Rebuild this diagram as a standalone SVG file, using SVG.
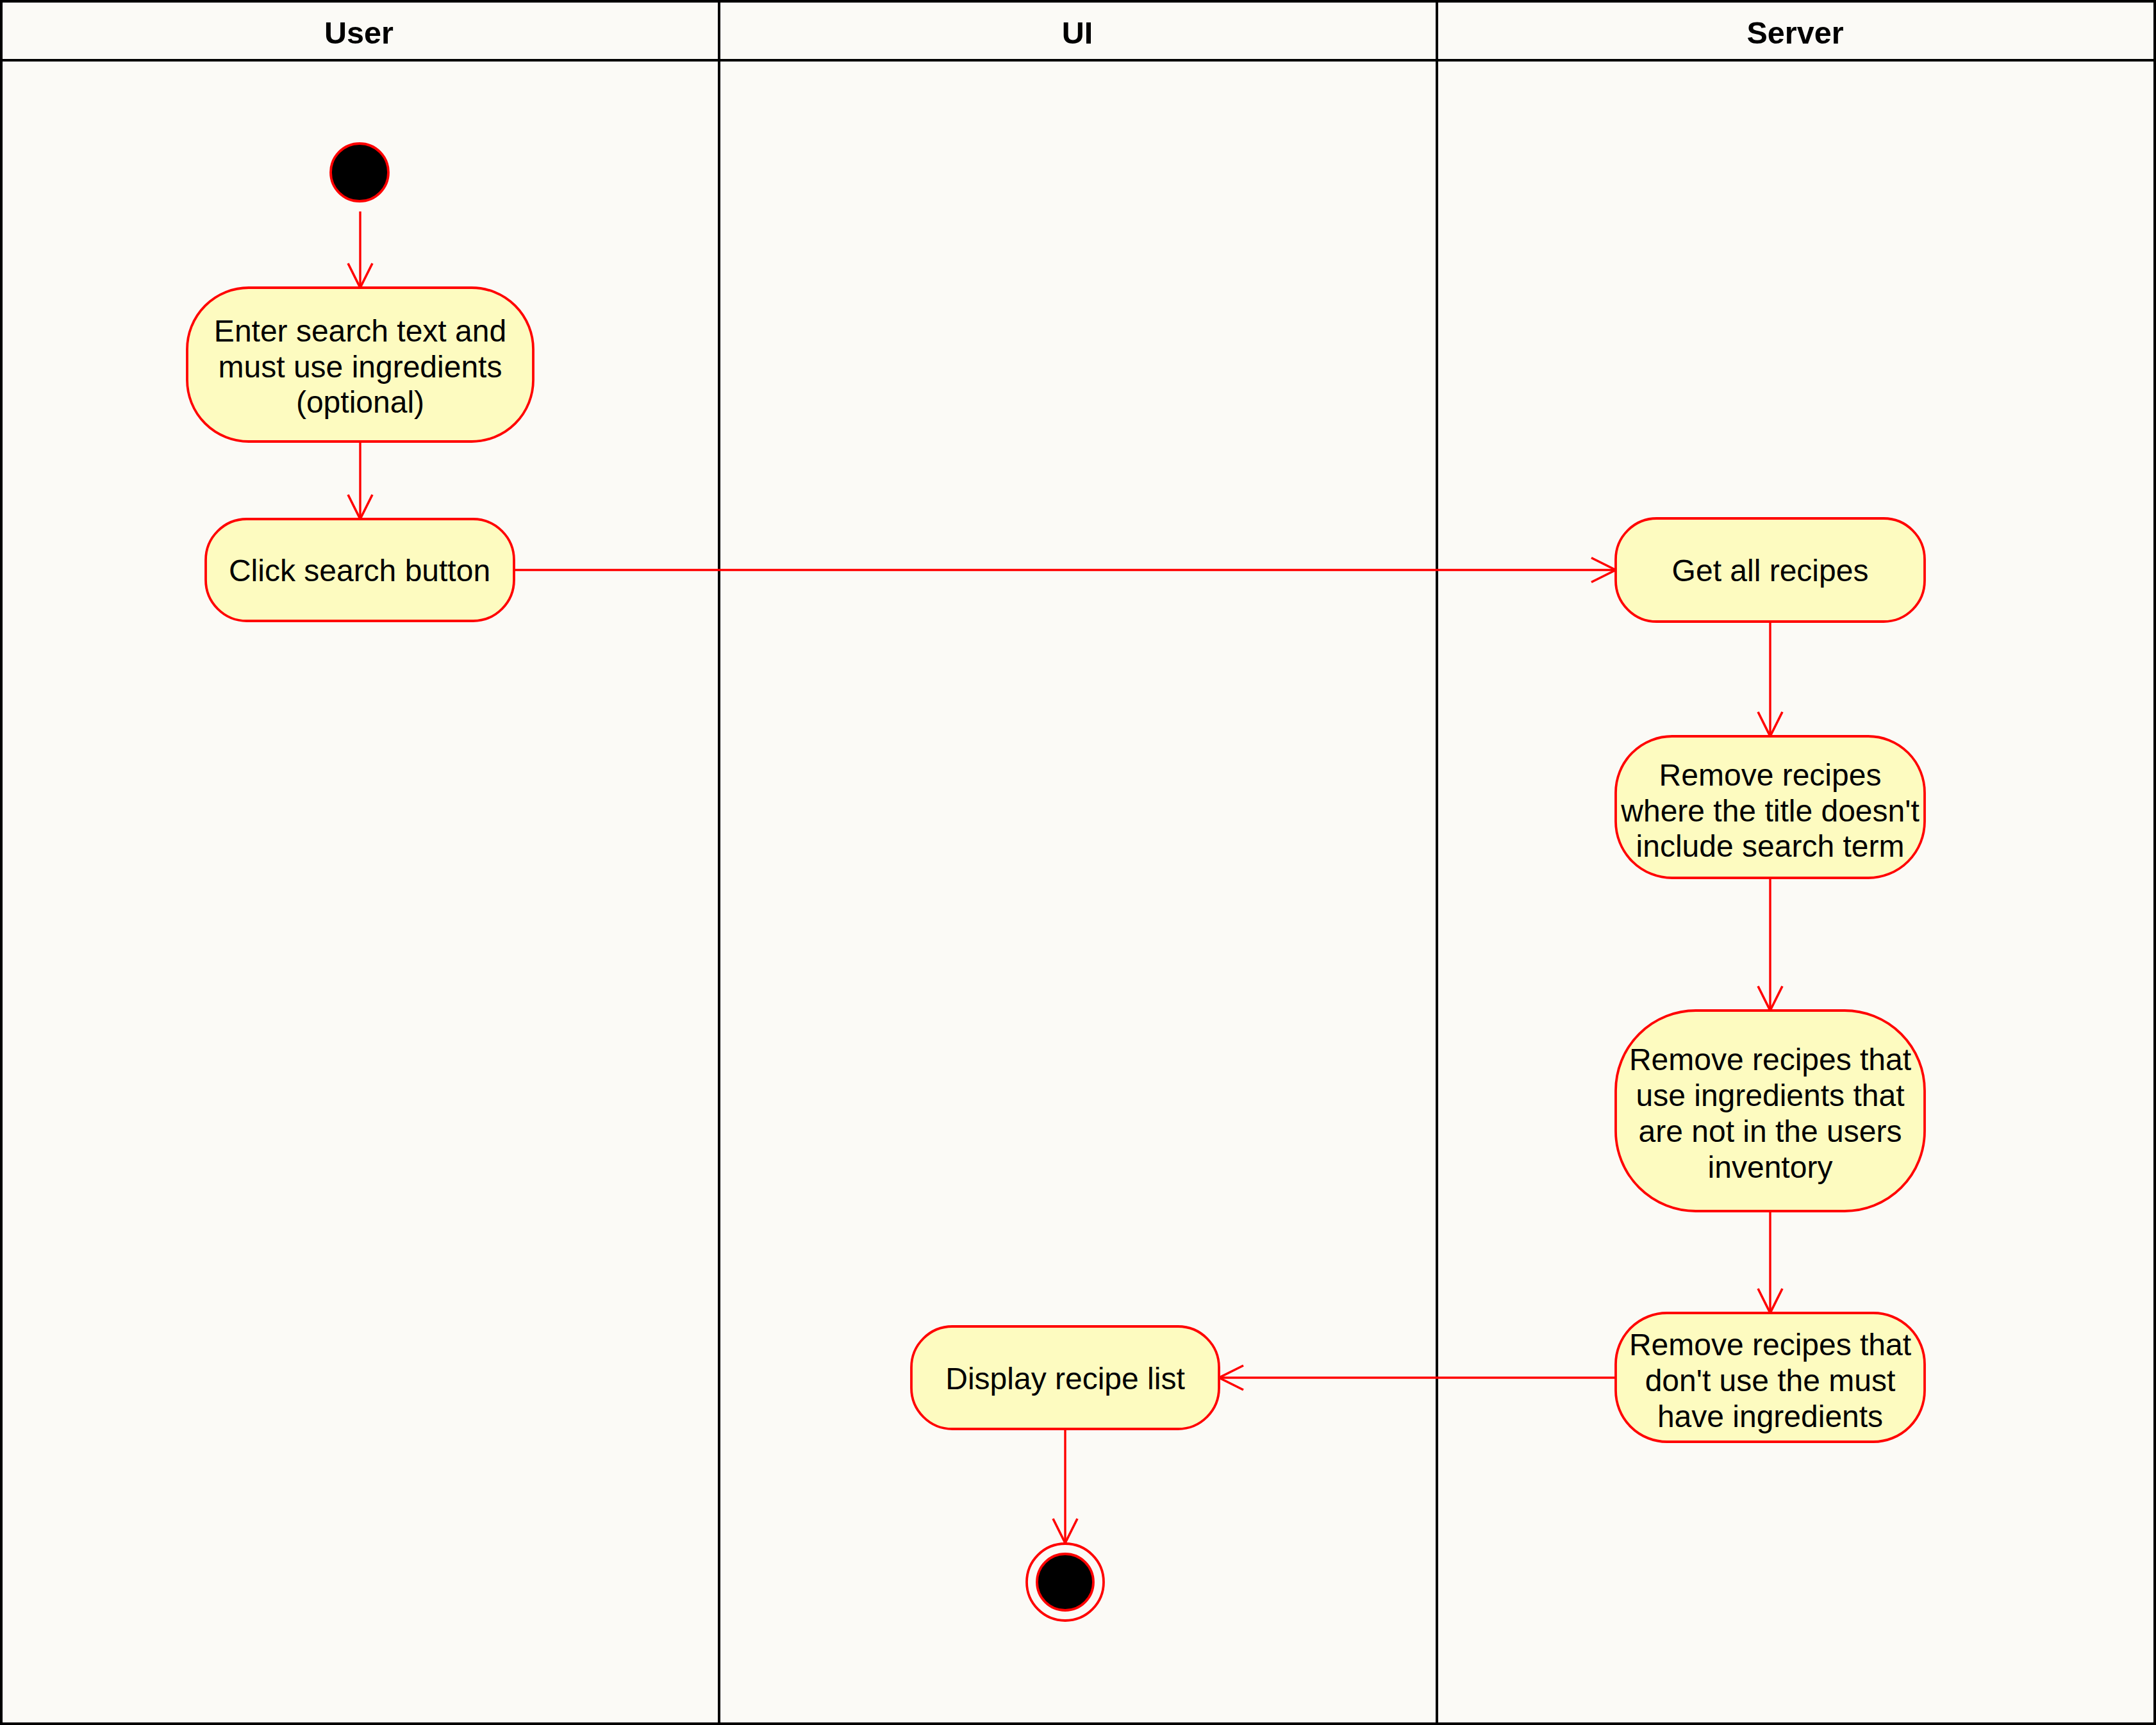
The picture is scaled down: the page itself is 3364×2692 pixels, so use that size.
<svg xmlns="http://www.w3.org/2000/svg" width="3364" height="2692" viewBox="0 0 3364 2692">
<style>
.lane{fill:none;stroke:#000;stroke-width:4}
.hdr{font-family:"Liberation Sans",Arial,sans-serif;font-size:48.5px;font-weight:bold;fill:#000;text-anchor:middle}
.act{fill:#FDFBC0;stroke:#F00;stroke-width:3.8}
.lbl{font-family:"Liberation Sans",Arial,sans-serif;font-size:48px;fill:#000;text-anchor:middle}
.edge{fill:none;stroke:#F00;stroke-width:3.4;marker-end:url(#open)}
</style>
<defs>
<marker id="open" markerUnits="userSpaceOnUse" viewBox="0 0 44 44" markerWidth="44" markerHeight="44" refX="41" refY="22" orient="auto">
<path d="M3,3 L41,22 L3,41" fill="none" stroke="#F00" stroke-width="3.6"/>
</marker>
</defs>
<rect x="0" y="0" width="3364" height="2692" fill="#FBFAF6"/>
<g id="lanes">
<rect class="lane" x="2" y="2" width="3360" height="2688"/>
<line class="lane" x1="2" y1="94" x2="3362" y2="94"/>
<line class="lane" x1="1122" y1="2" x2="1122" y2="2690"/>
<line class="lane" x1="2242" y1="2" x2="2242" y2="2690"/>
<text class="hdr" x="560" y="68">User</text>
<text class="hdr" x="1681" y="68">UI</text>
<text class="hdr" x="2801" y="68">Server</text>
</g>
<g id="connectors">
<path class="edge" d="M562,330 L562,449"/>
<path class="edge" d="M562,689 L562,810"/>
<path class="edge" d="M802,889.5 L2521,889.5"/>
<path class="edge" d="M2762,970 L2762,1149"/>
<path class="edge" d="M2762,1370 L2762,1577"/>
<path class="edge" d="M2762,1890 L2762,2049"/>
<path class="edge" d="M2521,2150 L1902,2150"/>
<path class="edge" d="M1662,2230 L1662,2408"/>
</g>
<g id="start">
<circle cx="561" cy="269" r="45" fill="#000" stroke="#F00" stroke-width="3.8"/>
</g>
<g id="enter-search">
<rect class="act" x="292" y="449" width="540" height="240" rx="96" ry="96"/>
<text class="lbl" x="562" y="533">Enter search text and</text>
<text class="lbl" x="562" y="589">must use ingredients</text>
<text class="lbl" x="562" y="644">(optional)</text>
</g>
<g id="click-search">
<rect class="act" x="321" y="810" width="481" height="159" rx="64" ry="64"/>
<text class="lbl" x="561" y="907">Click search button</text>
</g>
<g id="get-all">
<rect class="act" x="2521" y="809" width="482" height="161" rx="64" ry="64"/>
<text class="lbl" x="2762" y="907">Get all recipes</text>
</g>
<g id="remove-title">
<rect class="act" x="2521" y="1149" width="482" height="221" rx="88" ry="88"/>
<text class="lbl" x="2762" y="1226">Remove recipes</text>
<text class="lbl" x="2762" y="1282">where the title doesn't</text>
<text class="lbl" x="2762" y="1337">include search term</text>
</g>
<g id="remove-inventory">
<rect class="act" x="2521" y="1577" width="482" height="313" rx="125" ry="125"/>
<text class="lbl" x="2762" y="1670">Remove recipes that</text>
<text class="lbl" x="2762" y="1726">use ingredients that</text>
<text class="lbl" x="2762" y="1782">are not in the users</text>
<text class="lbl" x="2762" y="1838">inventory</text>
</g>
<g id="remove-must-have">
<rect class="act" x="2521" y="2049" width="482" height="201" rx="80" ry="80"/>
<text class="lbl" x="2762" y="2115">Remove recipes that</text>
<text class="lbl" x="2762" y="2171">don't use the must</text>
<text class="lbl" x="2762" y="2227">have ingredients</text>
</g>
<g id="display-list">
<rect class="act" x="1422" y="2070" width="480" height="160" rx="64" ry="64"/>
<text class="lbl" x="1662" y="2168">Display recipe list</text>
</g>
<g id="end">
<circle cx="1662" cy="2469" r="60" fill="none" stroke="#F00" stroke-width="3.8"/>
<circle cx="1662" cy="2469" r="44" fill="#000" stroke="#F00" stroke-width="3.8"/>
</g>
</svg>
